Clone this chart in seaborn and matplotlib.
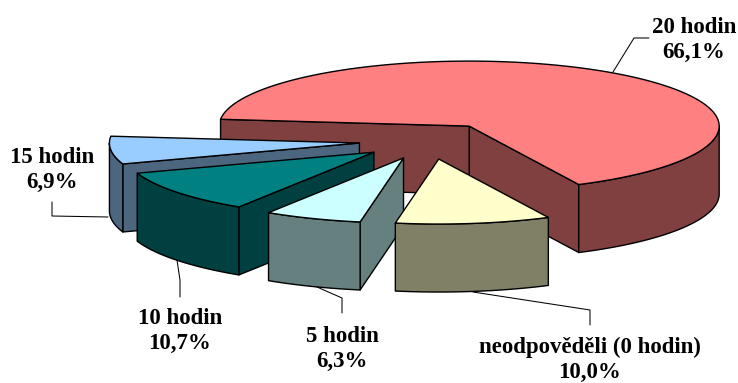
import numpy as np
import matplotlib
matplotlib.use("Agg")
import matplotlib.pyplot as plt
from matplotlib.patches import Polygon
import seaborn as sns

# Survey shares, in the order the slices run counter-clockwise
categories = ["20 hodin", "15 hodin", "10 hodin", "5 hodin", "neodpověděli (0 hodin)"]
shares = [66.1, 6.9, 10.7, 6.3, 10.0]
top_colors = ["#FF8080", "#99CCFF", "#008080", "#CCFFFF", "#FFFFCC"]

# Label anchors and leader lines, in canvas pixels
label_xy = [(694, 40), (52, 170), (180, 331), (342, 349), (590, 360)]
leaders = [
    [(613, 72), (634, 38), (649, 38)],
    [(108, 217), (52, 216), (52, 202)],
    [(177, 260), (180, 280), (180, 297)],
    [(317, 287), (342, 298), (342, 313)],
    [(473, 292), (590, 310), (590, 325)],
]

# Projection of the tilted disc
CENTER = np.array([429.0, 141.0])
RX, RY = 250.0, 65.0
DEPTH = 68.0
EXPLODE = 0.28
START_DEG = -64.0
LW = 1.0

sns.set_theme(style="white")
plt.rcParams["font.family"] = ["Liberation Serif", "DejaVu Serif"]

palette = sns.color_palette(top_colors)
fig = plt.figure(figsize=(7.38, 3.83), dpi=100)
ax = fig.add_axes([0, 0, 1, 1])
ax.set_xlim(0, 738)
ax.set_ylim(383, 0)
ax.axis("off")


def rim(apex, deg):
    t = np.radians(deg)
    return np.column_stack([apex[0] + RX * np.cos(t), apex[1] - RY * np.sin(t)])


def face(points, color, z):
    ax.add_patch(Polygon(points, closed=True, facecolor=color, edgecolor="black",
                         linewidth=LW, joinstyle="round", zorder=z))


def radial_wall(apex, deg, color, z):
    outer = rim(apex, np.array([deg]))[0]
    drop = np.array([0, DEPTH])
    face([apex, outer, outer + drop, apex + drop], color, z)


edges = START_DEG + np.concatenate([[0], np.cumsum(shares)]) * 3.6

for i, (a0, a1, color) in enumerate(zip(edges[:-1], edges[1:], palette)):
    side = tuple(c * 0.5 for c in color)
    mid = np.radians((a0 + a1) / 2)
    apex = CENTER + EXPLODE * np.array([RX * np.cos(mid), -RY * np.sin(mid)])
    z = 2 + i * 5

    # Radial cut faces turned towards the viewer
    if np.cos(np.radians(a0)) > 0:
        radial_wall(apex, a0, side, z)
    if np.cos(np.radians(a1)) < 0:
        radial_wall(apex, a1, side, z)

    # Outer wall: only the front half of the rim is visible
    arcs = []
    for k in (-1, 0, 1):
        lo, hi = max(a0, 180 + 360 * (k - 1)), min(a1, 360 + 360 * (k - 1))
        if lo < hi:
            arcs.append((lo, hi))
    for lo, hi in arcs:
        upper = rim(apex, np.linspace(lo, hi, 60))
        lower = upper[::-1] + np.array([0, DEPTH])
        face(np.vstack([upper, lower]), side, z + 1)

    # Top face
    top = rim(apex, np.linspace(a0, a1, 200))
    face(np.vstack([[apex], top]), color, z + 2)

for path in leaders:
    xs, ys = zip(*path)
    ax.plot(xs, ys, color="black", lw=0.75, zorder=40)

for name, share, (x, y) in zip(categories, shares, label_xy):
    value = f"{share:.1f}".replace(".", ",") + "%"
    ax.text(x, y, f"{name}\n{value}", ha="center", va="center", fontsize=16.5,
            fontweight="bold", color="black", linespacing=1.26, zorder=50)

fig.savefig("out.png", dpi=100, facecolor="white")
